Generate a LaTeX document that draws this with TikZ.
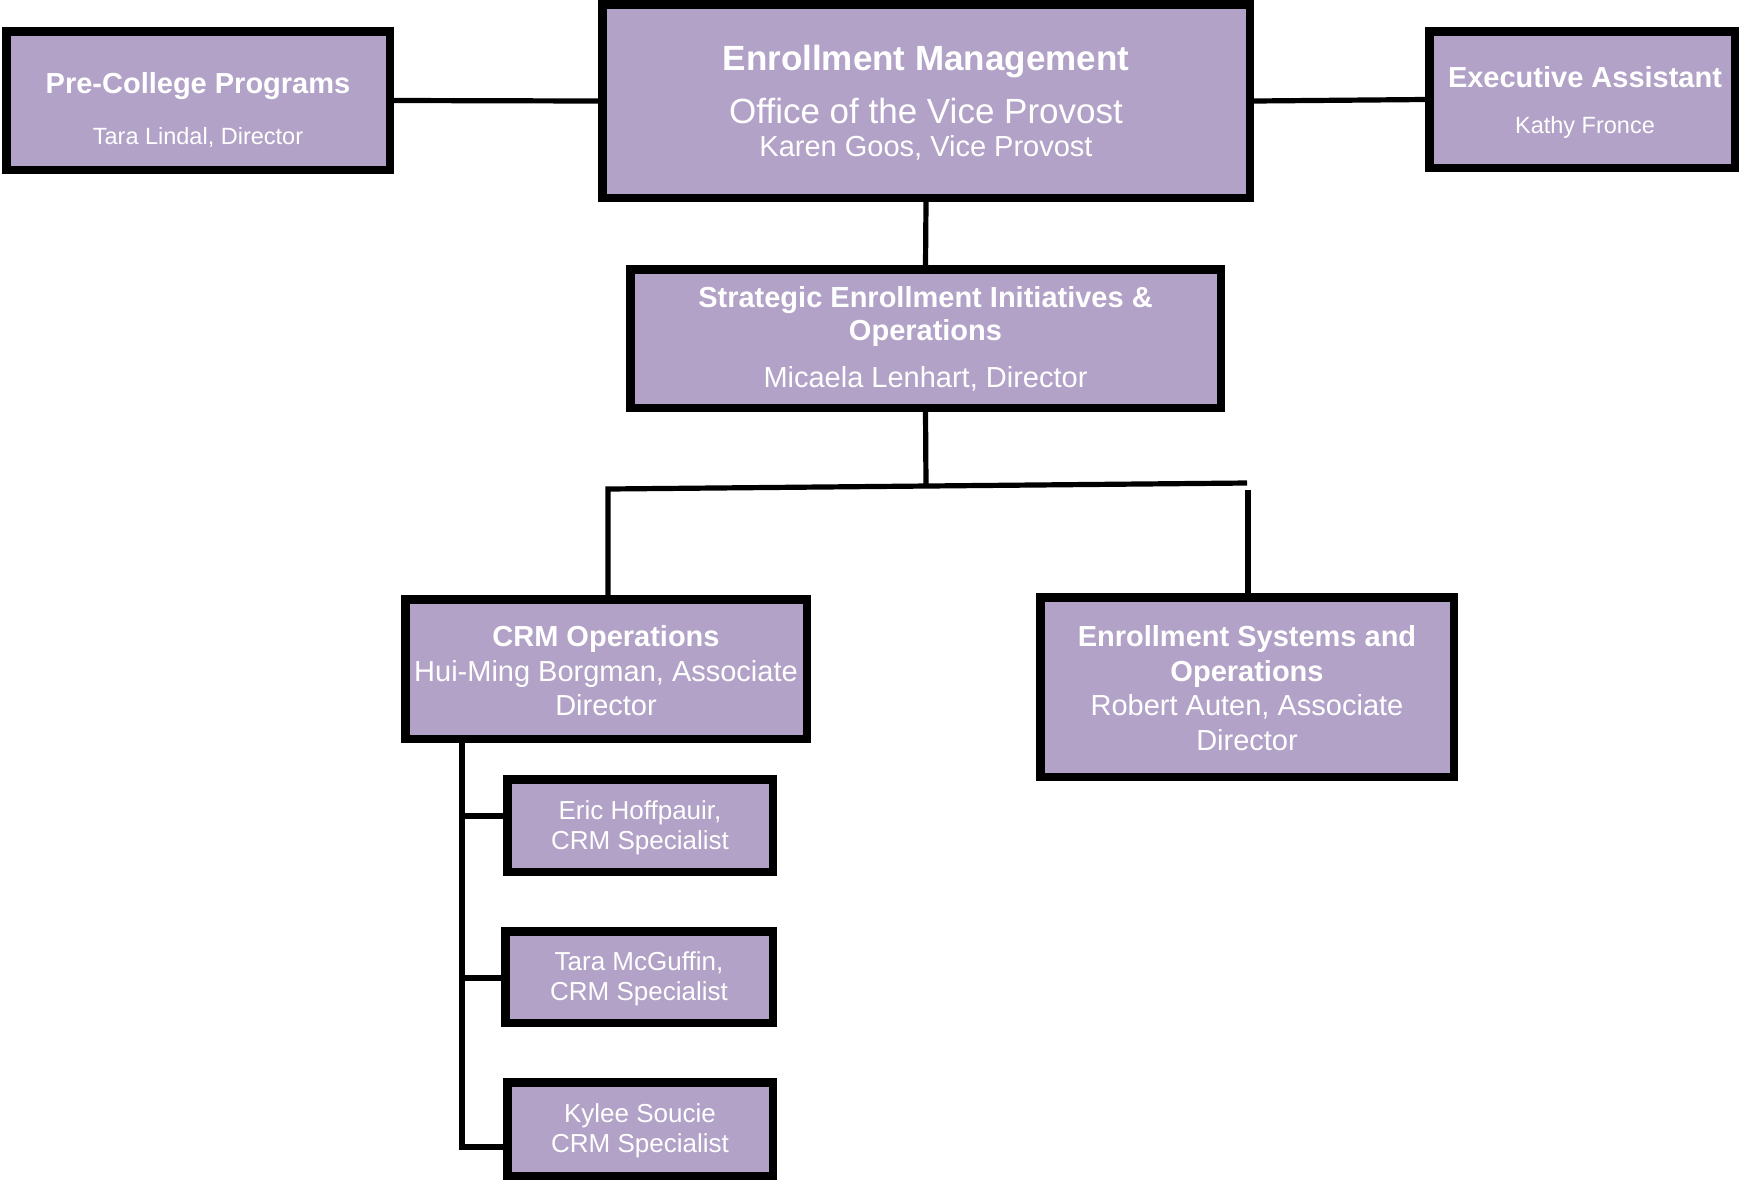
\documentclass[tikz,border=0pt]{standalone}
\usepackage{fontspec}
\setmainfont{Liberation Sans}
\definecolor{boxfill}{HTML}{B2A2C7}
\tikzset{
  orgbox/.style={draw=black, line width=4.25pt, fill=boxfill, inner sep=0pt},
  conn/.style={draw=black, line width=2.6pt, line join=miter},
  txt/.style={anchor=base, inner sep=0pt, text=white},
  tbig/.style={txt, font=\fontsize{17.5pt}{21pt}\selectfont},
  tmain/.style={txt, font=\fontsize{14.5pt}{17pt}\selectfont},
  tsmall/.style={txt, font=\fontsize{11.75pt}{14pt}\selectfont},
  tspec/.style={txt, font=\fontsize{13pt}{15pt}\selectfont},
}
\newcommand\orgnode[5]{%
  \node[orgbox, minimum width={(#4-#2-8.5)*0.5pt}, minimum height={(#5-#3-8.5)*0.5pt}]
    (#1) at ({(#2+#4)/2},{(#3+#5)/2}) {};}
\begin{document}
\begin{tikzpicture}[x=0.5pt, y=-0.5pt]
\useasboundingbox (0,0) rectangle (1739,1180);
% boxes
\orgnode{pre}{2}{27}{394}{174}
\orgnode{em}{598}{0}{1254}{202}
\orgnode{exec}{1425}{27}{1739}{172}
\orgnode{sei}{626}{265}{1225}{412}
\orgnode{crm}{401}{595}{811}{743}
\orgnode{esys}{1036}{593}{1458}{781}
\orgnode{eric}{503}{775}{777}{876}
\orgnode{tara}{501}{927}{777}{1027}
\orgnode{kylee}{503}{1078}{777}{1180}
% connectors
\draw[conn] (pre.east) -- (em.west);
\draw[conn] (em.east) -- (exec.west);
\draw[conn] (em.south) -- (sei.north);
\coordinate (jm) at (926,486);
\coordinate (jl) at (608,489);
\coordinate (jr) at (1247,483);
\coordinate (jr2) at (1248,490);
\draw[conn] (sei.south) -- (jm);
\draw[conn] (jl |- crm.north) -- (jl) -- (jr);
\draw[conn] (jr2) -- (jr2 |- esys.north);
\coordinate (b1) at (462,816);
\coordinate (b2) at (462,978);
\coordinate (b3) at (462,1147);
\draw[conn] (crm.south -| b3) -- (b3) -- (b3 -| kylee.west);
\draw[conn] (b1) -- (b1 -| eric.west);
\draw[conn] (b2) -- (b2 -| tara.west);
% texts
\node[tmain] (pre-1) at (198,93) {\bfseries Pre-College Programs};
\node[tsmall] (pre-2) at (198,144) {Tara Lindal, Director};
\node[tbig] (em-1) at (926,70) {\bfseries Enrollment Management};
\node[tbig] (em-2) at (926,123) {Office of the Vice Provost};
\node[tmain] (em-3) at (926,156) {Karen Goos, Vice Provost};
\node[tmain] (exec-1) at (1585,87) {\bfseries Executive Assistant};
\node[tsmall] (exec-2) at (1585,133) {Kathy Fronce};
\node[tmain] (sei-1) at (925.5,307) {\bfseries Strategic Enrollment Initiatives \&};
\node[tmain] (sei-2) at (925.5,340) {\bfseries Operations};
\node[tmain] (sei-3) at (925.5,387) {Micaela Lenhart, Director};
\node[tmain] (crm-1) at (606,646) {\bfseries CRM Operations};
\node[tmain] (crm-2) at (606,681) {Hui-Ming Borgman, Associate};
\node[tmain] (crm-3) at (606,715) {Director};
\node[tmain] (esys-1) at (1247,646) {\bfseries Enrollment Systems and};
\node[tmain] (esys-2) at (1247,681) {\bfseries Operations};
\node[tmain] (esys-3) at (1247,715) {Robert Auten, Associate};
\node[tmain] (esys-4) at (1247,750) {Director};
\node[tspec] (eric-1) at (640,819) {Eric Hoffpauir,};
\node[tspec] (eric-2) at (640,849) {CRM Specialist};
\node[tspec] (tara-1) at (639,970) {Tara McGuffin,};
\node[tspec] (tara-2) at (639,1000) {CRM Specialist};
\node[tspec] (kylee-1) at (640,1122) {Kylee Soucie};
\node[tspec] (kylee-2) at (640,1152) {CRM Specialist};
\end{tikzpicture}
\end{document}
